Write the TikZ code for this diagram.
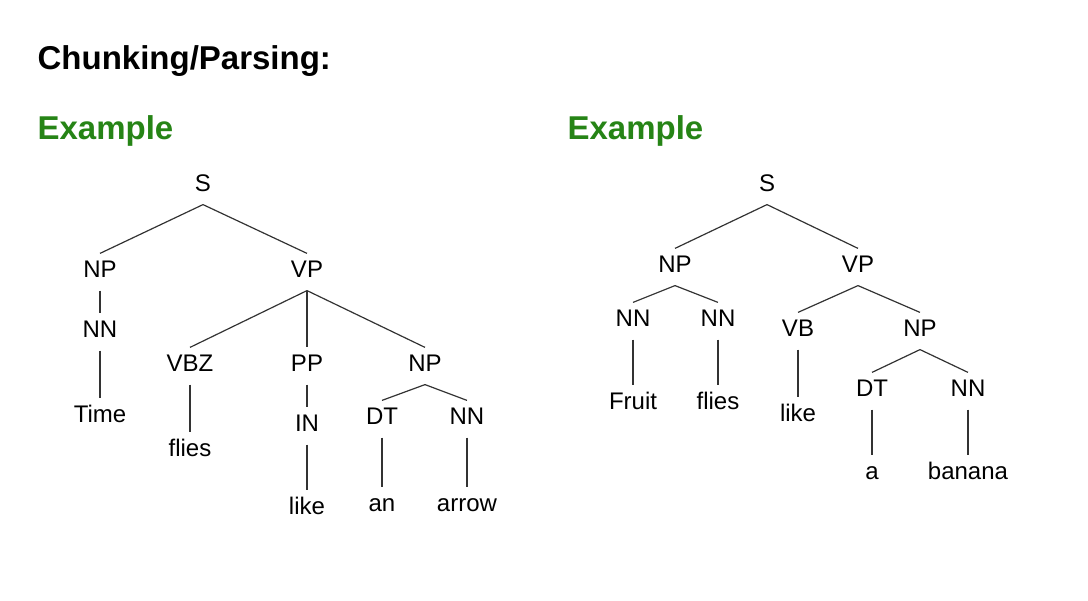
\documentclass[tikz,border=0pt]{standalone}
\usepackage{fontspec}
\setmainfont{Liberation Sans}
\usetikzlibrary{positioning}
\definecolor{exgreen}{RGB}{38,132,22}

\begin{document}
\begin{tikzpicture}
[x=1pt, y=-1pt, line width=1.2pt,
tag/.style={anchor=base, inner xsep=2pt, inner ysep=6pt, text height=18pt, text depth=6pt,
  font=\fontsize{24}{24}\selectfont},
heading/.style={anchor=base west, inner sep=0pt, font=\fontsize{33}{33}\selectfont\bfseries},
edge/.style={draw=black!80}]

\useasboundingbox (0,0) rectangle (1088,601);

\node[heading] (title) at (37,70) {Chunking/Parsing:};
\node[heading, text=exgreen] (ex1) at (37,140) {Example};
\node[heading, text=exgreen] (ex2) at (567,140) {Example};

% left tree
\node[tag] (aS)     at (203,192) {S};
\node[tag] (aNP)    at (100,278) {NP};
\node[tag] (aVP)    at (307,278) {VP};
\node[tag] (aNN)    at (100,338) {NN};
\node[tag] (aTime)  at (100,423) {Time};
\node[tag] (aVBZ)   at (190,372) {VBZ};
\node[tag] (aPP)    at (307,372) {PP};
\node[tag] (aNPb)   at (425,372) {NP};
\node[tag] (aflies) at (190,457) {flies};
\node[tag] (aIN)    at (307,432) {IN};
\node[tag] (alike)  at (307,515) {like};
\node[tag] (aDT)    at (382,425) {DT};
\node[tag] (aNNb)   at (467,425) {NN};
\node[tag] (aan)    at (382,512) {an};
\node[tag] (aarrow) at (467,512) {arrow};

% right tree
\node[tag] (bS)      at (767,192) {S};
\node[tag] (bNP)     at (675,273) {NP};
\node[tag] (bVP)     at (858,273) {VP};
\node[tag] (bNN)     at (633,327) {NN};
\node[tag] (bNNb)    at (718,327) {NN};
\node[tag] (bFruit)  at (633,410) {Fruit};
\node[tag] (bflies)  at (718,410) {flies};
\node[tag] (bVB)     at (798,337) {VB};
\node[tag] (bNPb)    at (920,337) {NP};
\node[tag] (blike)   at (798,422) {like};
\node[tag] (bDT)     at (872,397) {DT};
\node[tag] (bNNc)    at (968,397) {NN};
\node[tag] (ba)      at (872,480) {a};
\node[tag] (bbanana) at (968,480) {banana};

\foreach \p/\c in {aS/aNP, aS/aVP, aNP/aNN, aNN/aTime, aVP/aVBZ, aVP/aPP, aVP/aNPb,
  aVBZ/aflies, aPP/aIN, aIN/alike, aNPb/aDT, aNPb/aNNb, aDT/aan, aNNb/aarrow,
  bS/bNP, bS/bVP, bNP/bNN, bNP/bNNb, bNN/bFruit, bNNb/bflies, bVP/bVB, bVP/bNPb,
  bVB/blike, bNPb/bDT, bNPb/bNNc, bDT/ba, bNNc/bbanana} {
  \draw[edge] (\p.south) -- (\c.north);
}
\end{tikzpicture}
\end{document}
